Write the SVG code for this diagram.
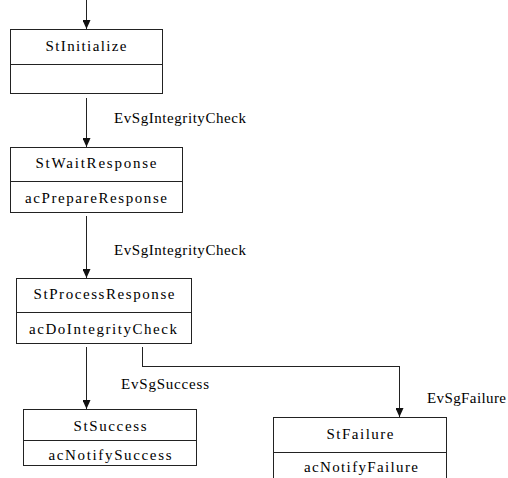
<svg xmlns="http://www.w3.org/2000/svg" width="508" height="478" viewBox="0 0 508 478" font-family="'Liberation Serif', 'Times New Roman', Times, serif" font-size="15">
  <style>
    .box { fill: #fff; stroke: #222; stroke-width: 1; shape-rendering: crispEdges; }
    .div { stroke: #222; stroke-width: 1; shape-rendering: crispEdges; }
    .edge { fill: none; stroke: #222; stroke-width: 1; shape-rendering: crispEdges; }
    text { fill: #000; }
    .c { text-anchor: middle; }
  </style>
  <defs>
    <!-- filled triangular head; drawn along +x so orient="auto" points it down the line -->
    <marker id="arrow" markerWidth="9" markerHeight="8" refX="9" refY="4" orient="auto" markerUnits="userSpaceOnUse" viewBox="0 0 9 8">
      <path d="M0,0 L9,4 L0,8 Z" fill="#111"/>
    </marker>
  </defs>
  <rect width="508" height="478" fill="#fff"/>

  <!-- transitions -->
  <g id="connectors">
    <line class="edge" x1="86.5" y1="0" x2="86.5" y2="29" marker-end="url(#arrow)"/>
    <line class="edge" x1="86.5" y1="98" x2="86.5" y2="147" marker-end="url(#arrow)"/>
    <line class="edge" x1="86.5" y1="216" x2="86.5" y2="278" marker-end="url(#arrow)"/>
    <line class="edge" x1="86.5" y1="347" x2="86.5" y2="409" marker-end="url(#arrow)"/>
    <polyline class="edge" points="142.5,347 142.5,366.5 399.5,366.5 399.5,417" marker-end="url(#arrow)"/>
    <text x="114" y="123" textLength="132" lengthAdjust="spacing">EvSgIntegrityCheck</text>
    <text x="114" y="255" textLength="132" lengthAdjust="spacing">EvSgIntegrityCheck</text>
    <text x="121" y="389" textLength="88" lengthAdjust="spacing">EvSgSuccess</text>
    <text x="427" y="403" textLength="79" lengthAdjust="spacing">EvSgFailure</text>
  </g>

  <g id="StInitialize">
    <rect class="box" x="10.5" y="29.5" width="152" height="64"/>
    <line class="div" x1="10.5" y1="64.5" x2="162.5" y2="64.5"/>
    <text class="c" x="86" y="51" textLength="81" lengthAdjust="spacing">StInitialize</text>
  </g>

  <g id="StWaitResponse">
    <rect class="box" x="10.5" y="147.5" width="172" height="65"/>
    <line class="div" x1="10.5" y1="181.5" x2="182.5" y2="181.5"/>
    <text class="c" x="96" y="168" textLength="121" lengthAdjust="spacing">StWaitResponse</text>
    <text class="c" x="96" y="203" textLength="142" lengthAdjust="spacing">acPrepareResponse</text>
  </g>

  <g id="StProcessResponse">
    <rect class="box" x="16.5" y="278.5" width="175" height="65"/>
    <line class="div" x1="16.5" y1="312.5" x2="191.5" y2="312.5"/>
    <text class="c" x="104" y="299" textLength="141" lengthAdjust="spacing">StProcessResponse</text>
    <text class="c" x="103" y="334" textLength="148" lengthAdjust="spacing">acDoIntegrityCheck</text>
  </g>

  <g id="StSuccess">
    <rect class="box" x="23.5" y="409.5" width="173" height="56"/>
    <line class="div" x1="23.5" y1="440.5" x2="196.5" y2="440.5"/>
    <text class="c" x="110" y="431" textLength="73" lengthAdjust="spacing">StSuccess</text>
    <text class="c" x="110" y="460" textLength="123" lengthAdjust="spacing">acNotifySuccess</text>
  </g>

  <g id="StFailure">
    <rect class="box" x="273.5" y="417.5" width="173" height="70"/>
    <line class="div" x1="273.5" y1="452.5" x2="446.5" y2="452.5"/>
    <text class="c" x="360" y="439" textLength="67" lengthAdjust="spacing">StFailure</text>
    <text class="c" x="361" y="472" textLength="114" lengthAdjust="spacing">acNotifyFailure</text>
  </g>
</svg>
